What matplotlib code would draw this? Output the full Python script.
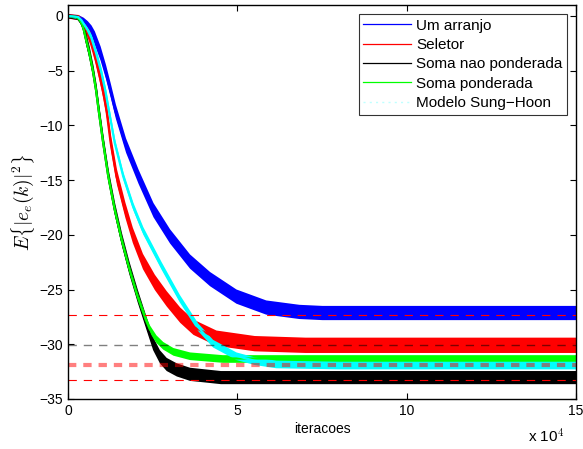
import matplotlib
matplotlib.use("Agg")
import matplotlib.pyplot as plt

plt.rcParams['font.family'] = ['Liberation Sans', 'DejaVu Sans']
plt.rcParams['mathtext.fontset'] = 'cm'
plt.rcParams['lines.scale_dashes'] = False

# iteracoes em unidades de 1e4, EMQ em dB (linha central de cada curva)
x_um = [0, 0.3, 0.45, 0.57, 0.68, 0.78, 0.95, 1.11, 1.25, 1.40, 1.70, 2.07, 2.51, 3.0, 3.59, 4.18, 4.96, 5.84, 6.82, 7.5, 15]
y_um = [0, -0.1, -0.4, -0.8, -1.3, -2.0, -3.4, -5.1, -6.8, -8.7, -11.8, -14.65, -17.7, -20.1, -22.4, -24.0, -25.6, -26.6, -27.0, -27.1, -27.1]

x_sel = [0, 0.3, 0.38, 0.45, 0.55, 0.65, 0.78, 0.91, 1.03, 1.14, 1.26, 1.43, 1.68, 1.9, 2.2, 2.55, 2.9, 3.3, 3.69, 4.37, 5.5, 7.0, 15]
y_sel = [0, -0.1, -0.4, -0.8, -1.3, -2.0, -3.4, -5.1, -6.8, -8.7, -11.6, -14.65, -17.7, -20.0, -22.4, -24.3, -25.8, -27.3, -28.4, -29.4, -29.9, -30.05, -30.05]

x_snp = [0, 0.26, 0.35, 0.42, 0.47, 0.52, 0.63, 0.74, 0.83, 0.91, 1.04, 1.19, 1.38, 1.58, 1.8, 2.05, 2.3, 2.5, 2.7, 2.9, 3.2, 3.59, 4.5, 15]
y_snp = [0, -0.1, -0.4, -0.8, -1.3, -2.0, -3.4, -5.1, -6.8, -8.7, -11.6, -14.65, -17.7, -20.4, -23.0, -25.6, -28.0, -29.9, -31.1, -31.8, -32.3, -32.7, -33.0, -33.0]

x_sp = [0, 0.26, 0.35, 0.42, 0.47, 0.52, 0.63, 0.74, 0.83, 0.91, 1.04, 1.19, 1.38, 1.58, 1.8, 2.05, 2.3, 2.41, 2.6, 2.8, 3.1, 3.59, 4.56, 6.0, 15]
y_sp = [0, -0.1, -0.4, -0.8, -1.3, -2.0, -3.4, -5.1, -6.8, -8.7, -11.6, -14.65, -17.7, -20.4, -23.0, -25.6, -27.8, -28.6, -29.5, -30.1, -30.65, -31.05, -31.3, -31.3, -31.3]

x_sh = [0, 0.3, 0.4, 0.48, 0.58, 0.69, 0.83, 0.98, 1.1, 1.21, 1.38, 1.63, 1.92, 2.21, 2.75, 3.29, 3.83, 4.27, 4.96, 5.5, 6.14, 8.0, 15]
y_sh = [0, -0.1, -0.4, -0.8, -1.3, -2.0, -3.4, -5.1, -6.8, -8.7, -11.6, -14.65, -17.4, -19.6, -22.8, -25.8, -28.4, -29.9, -31.05, -31.5, -31.8, -31.9, -31.9]

# nivel teorico de regime (tracejado)
niveis = [-27.3, -30.1, -31.9, -33.3]

fig = plt.figure(figsize=(5.83, 4.49), dpi=100)
ax = fig.add_axes([0.1166, 0.1114, 0.8714, 0.8775])

curvas = [
    (x_um, y_um, '#0000ff', 0.65),
    (x_sel, y_sel, '#ff0000', 0.7),
    (x_snp, y_snp, '#000000', 0.6),
    (x_sp, y_sp, '#00ff00', 0.35),
    (x_sh, y_sh, '#00ffff', 0.35),
]
for xs, ys, c, h in curvas:
    # faixa de ruido mais fina perto de 0 dB
    hw = [h * min(1.0, 0.3 - v / 3.0) for v in ys]
    lo = [v - w for v, w in zip(ys, hw)]
    hi = [v + w for v, w in zip(ys, hw)]
    ax.fill_between(xs, lo, hi, color=c, lw=0)
    ax.plot(xs, ys, color=c, lw=1.6, solid_joinstyle='round')

ax.plot([0, 15], [niveis[0]] * 2, color='r', lw=0.8, dashes=(6, 5))
ax.plot([0, 15], [niveis[1]] * 2, color='k', alpha=0.5, lw=1.0, dashes=(6, 5))
ax.plot([0, 15], [niveis[2]] * 2, color='r', alpha=0.5, lw=3.0, dashes=(6, 5))
ax.plot([0, 15], [niveis[3]] * 2, color='r', lw=0.8, dashes=(6, 5))

# entradas da legenda
ax.plot([], [], color='#0000ff', lw=0.9, label='Um arranjo')
ax.plot([], [], color='#ff0000', lw=0.9, label='Seletor')
ax.plot([], [], color='#000000', lw=0.9, label='Soma nao ponderada')
ax.plot([], [], color='#00ff00', lw=0.9, label='Soma ponderada')
ax.plot([], [], color='#bfffff', lw=1.0, dashes=(1.5, 3), label='Modelo Sung\u2212Hoon')

ax.set_xlim(0, 15)
ax.set_ylim(-35, 1)
ax.set_xticks([0, 5, 10, 15])
ax.set_yticks([0, -5, -10, -15, -20, -25, -30, -35])
ax.tick_params(direction='in', top=True, right=True, length=4, labelsize=10)
for s in ax.spines.values():
    s.set_linewidth(1.0)

ax.set_xlabel('iteracoes', fontsize=10, labelpad=3)
ax.set_ylabel(r'$E\left\{|e_e(k)|^2\right\}$', fontsize=14, labelpad=2)
fig.text(0.906, 0.013, r'x 10$^4$', fontsize=11)

leg = ax.legend(loc='upper right', fontsize=11, frameon=True, fancybox=False,
                edgecolor='k', handlelength=3.1, handletextpad=0.35,
                borderpad=0.3, labelspacing=0.35, borderaxespad=0.6)
leg.get_frame().set_linewidth(0.8)

fig.savefig('out.png', dpi=100)
